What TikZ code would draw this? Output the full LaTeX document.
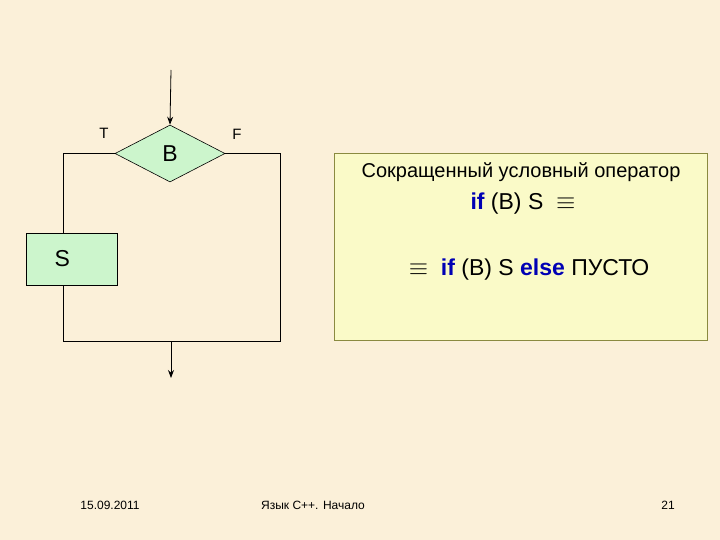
\documentclass[tikz,border=0pt]{standalone}
\usepackage{fontspec}
\setmainfont{Liberation Sans}
\usetikzlibrary{shapes.geometric,arrows.meta}
\definecolor{slidebg}{HTML}{FBF0D9}
\definecolor{blockgreen}{HTML}{CCF5CC}
\definecolor{notefill}{HTML}{FAFAC8}
\definecolor{noteline}{HTML}{8A8A40}
\definecolor{kwblue}{HTML}{0000B4}

\tikzset{
  flow/.style={draw=black, line width=0.8pt},
  cond/.style={diamond, draw=black, fill=blockgreen, line width=0.6pt,
    minimum width=110pt, minimum height=57pt, inner sep=0pt, font=\fontsize{23}{25}\selectfont},
  block/.style={rectangle, draw=black, fill=blockgreen, line width=0.6pt,
    text width=35pt, align=left, inner xsep=28pt, inner ysep=0pt,
    minimum height=52pt, font=\fontsize{23}{25}\selectfont},
  branch/.style={font=\fontsize{15}{17}\selectfont},
  foot/.style={font=\fontsize{12}{14}\selectfont}
}
\newcommand{\kwd}[1]{\textcolor{kwblue}{\textbf{#1}}}

\begin{document}
\begin{tikzpicture}[x=1pt, y=-1pt]

% ==== Slide background ====
\fill[slidebg] (0,0) rectangle (720,540);
\useasboundingbox (0,0) rectangle (720,540);

% ==== Flowchart ====
\coordinate (in) at (171,70);
\node[cond] (B) at (170,153.5) {B};
\node[block] (S) at (72,259) {S};
\coordinate (tl) at (63,153.5);
\coordinate (tr) at (280,153.5);
\coordinate (bl) at (63,341);
\coordinate (br) at (280,341);
\coordinate (join) at (171,341);
\coordinate (out) at (171,378);

\draw[flow, -{Stealth[length=8pt,width=6pt]}] (in) -- (B.north);
\draw[flow] (B.west) -- (tl) -- (tl |- S.north);
\draw[flow] (S.south -| bl) -- (bl) -- (br) -- (tr) -- (B.east);
\draw[flow, -{Stealth[length=8pt,width=6pt]}] (join) -- (out);

% Labels
\node[branch] (T) at (104,133) {T};
\node[branch] (F) at (237,134) {F};

% ==== Note box ====
\node[draw=noteline, fill=notefill, line width=0.7pt, minimum width=373pt,
  minimum height=187pt, inner sep=0pt] (note) at (521,246.5) {};
\node[font=\fontsize{20}{22}\selectfont] (title) at (521,172) {Сокращенный условный оператор};
\node[font=\fontsize{23}{26}\selectfont] (line1) at (523,204) {\kwd{if} (B) S \ $\equiv$};
\node[font=\fontsize{23}{26}\selectfont] (line2) at (529,270) {$\equiv$ \ \kwd{if} (B) S \kwd{else} ПУСТО};

% ==== Footer ====
\node[foot] (date) at (110,505) {15.09.2011};
\node[foot] (topic) at (313,505) {Язык С++. Начало};
\node[foot] (page) at (668,505) {21};

\end{tikzpicture}
\end{document}
